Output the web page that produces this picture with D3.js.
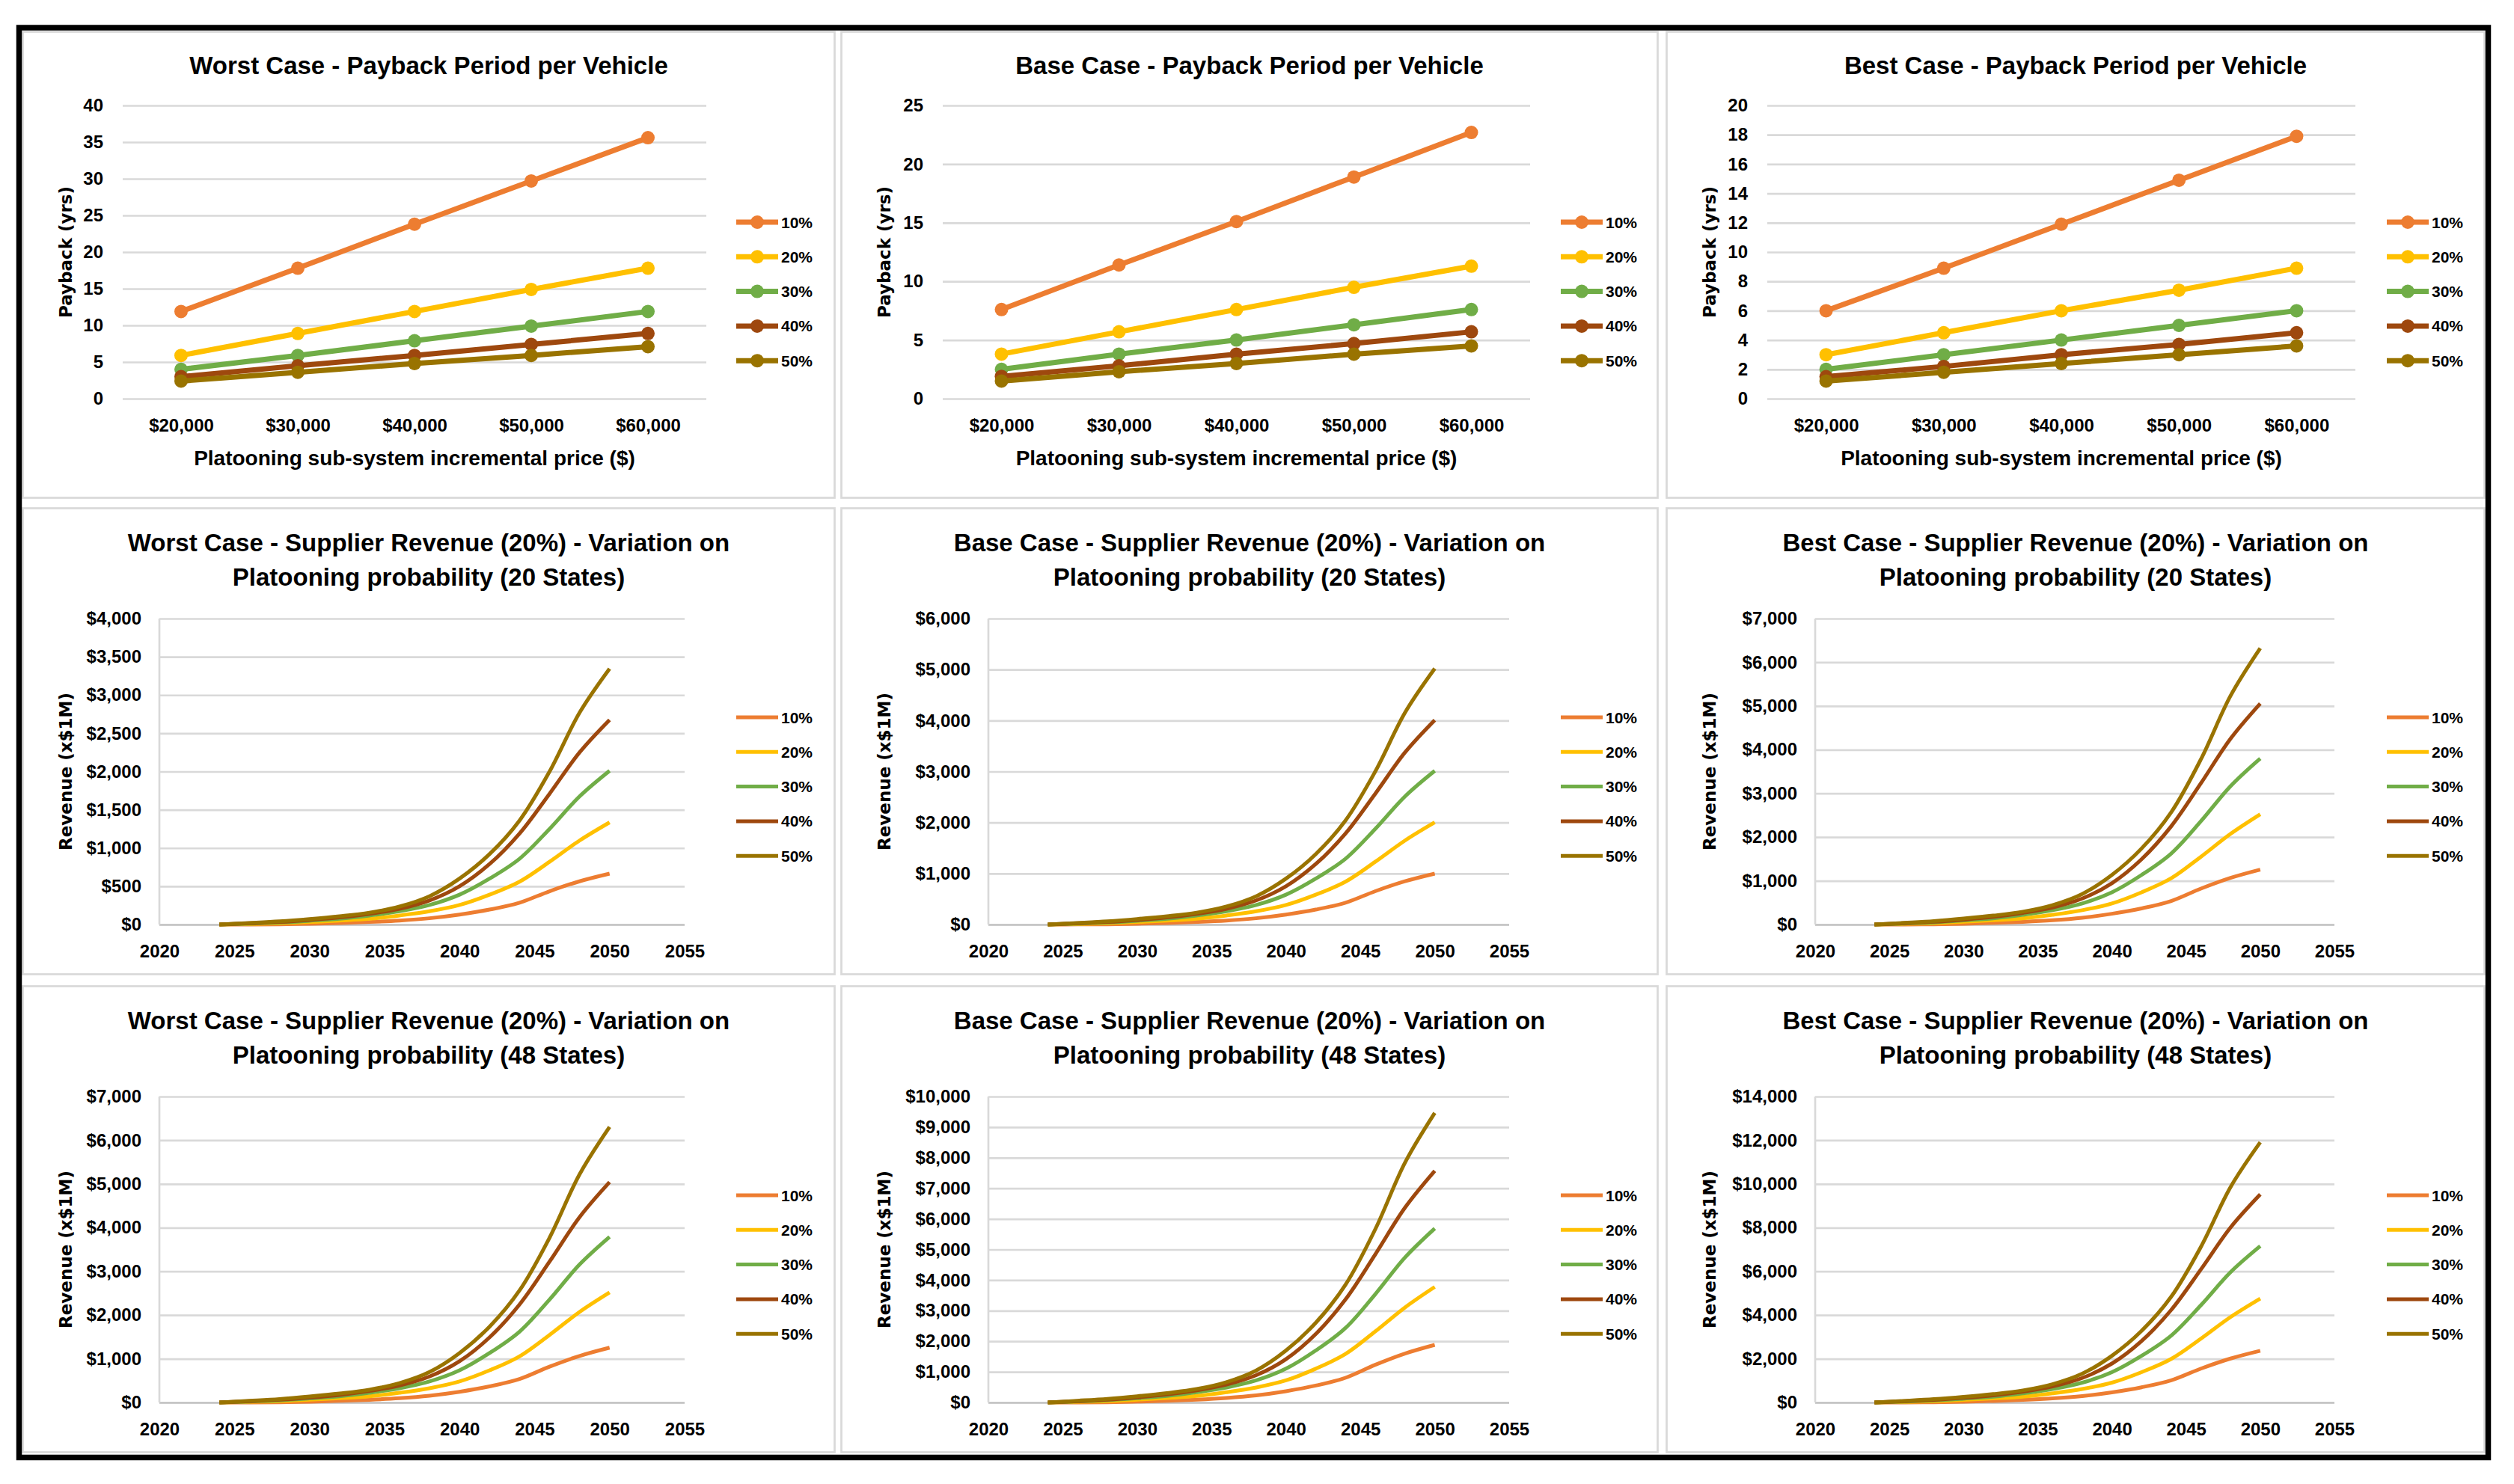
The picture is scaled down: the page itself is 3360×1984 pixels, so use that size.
<!DOCTYPE html>
<html>
<head>
<meta charset="utf-8">
<script src="https://cdn.jsdelivr.net/npm/d3@7"></script>
<style>
    body { margin: 0; background: #fff; }
    text { font-family: "Liberation Sans", Arial, sans-serif; font-weight: bold; fill: #000; }
    .ytitle { font-family: "DejaVu Sans", Verdana, sans-serif; font-size: 23px; }
    .chartTitle { font-size: 33px; }
    .xtitle { font-size: 28px; }
    .tick text { font-size: 24px; }
    .legend text { font-size: 21px; }
</style>
</head>
<body>
<script>
// Categories / labels
var priceLabels = ["$20,000", "$30,000", "$40,000", "$50,000", "$60,000"];
var probLabels = ["10%", "20%", "30%", "40%", "50%"];
var seriesColors = ["#ED7D31", "#FFC000", "#70AD47", "#9E480E", "#997300"];

// Payback (yrs), one row per probability
var paybackWorst = [
    [11.9, 17.8, 23.8, 29.7, 35.6],
    [5.9, 8.9, 11.9, 14.9, 17.8],
    [4.0, 5.9, 7.9, 9.9, 11.9],
    [3.0, 4.5, 5.9, 7.4, 8.9],
    [2.4, 3.6, 4.8, 5.9, 7.1]
];
var paybackBase = [
    [7.6, 11.4, 15.1, 18.9, 22.7],
    [3.8, 5.7, 7.6, 9.5, 11.3],
    [2.5, 3.8, 5.0, 6.3, 7.6],
    [1.9, 2.8, 3.8, 4.7, 5.7],
    [1.5, 2.3, 3.0, 3.8, 4.5]
];
var paybackBest = [
    [6.0, 8.9, 11.9, 14.9, 17.9],
    [3.0, 4.5, 6.0, 7.4, 8.9],
    [2.0, 3.0, 4.0, 5.0, 6.0],
    [1.5, 2.2, 3.0, 3.7, 4.5],
    [1.2, 1.8, 2.4, 3.0, 3.6]
];

// Supplier revenue (x$1M)
var revYears = [2024, 2026, 2028, 2030, 2032, 2034, 2036, 2038, 2040, 2042, 2044, 2046, 2048, 2050];

var revWorst20 = [
    [0, 1, 3, 10, 20, 33, 52, 82, 130, 195, 285, 435, 565, 665],
    [0, 8, 16, 33, 52, 75, 118, 173, 255, 390, 560, 820, 1098, 1335],
    [0, 12, 26, 49, 75, 118, 173, 255, 390, 600, 860, 1250, 1675, 2010],
    [0, 16, 33, 59, 92, 140, 206, 315, 500, 790, 1190, 1710, 2250, 2675],
    [0, 20, 42, 72, 108, 155, 235, 370, 600, 920, 1360, 2000, 2770, 3345]
];
var revBase20 = [
    [0, 2, 5, 15, 30, 50, 78, 123, 195, 293, 428, 653, 848, 998],
    [0, 12, 24, 50, 78, 113, 177, 260, 383, 585, 840, 1230, 1647, 2003],
    [0, 18, 39, 74, 113, 177, 260, 383, 585, 900, 1290, 1875, 2513, 3015],
    [0, 24, 50, 89, 138, 210, 309, 473, 750, 1185, 1785, 2565, 3375, 4010],
    [0, 30, 63, 108, 162, 233, 353, 555, 900, 1380, 2040, 3000, 4155, 5020]
];
var revBest20 = [
    [0, 2, 6, 19, 38, 62, 98, 155, 246, 369, 539, 822, 1068, 1257],
    [0, 15, 30, 62, 98, 142, 223, 327, 482, 737, 1058, 1550, 2075, 2523],
    [0, 23, 49, 93, 142, 223, 327, 482, 737, 1134, 1625, 2363, 3166, 3799],
    [0, 30, 62, 112, 174, 265, 389, 595, 945, 1493, 2249, 3232, 4253, 5056],
    [0, 38, 79, 136, 204, 293, 444, 699, 1134, 1739, 2570, 3780, 5235, 6322]
];
var revWorst48 = [
    [0, 2, 6, 19, 38, 62, 98, 155, 245, 368, 537, 820, 1065, 1254],
    [0, 15, 30, 62, 98, 141, 222, 326, 481, 735, 1056, 1546, 2070, 2516],
    [0, 23, 49, 92, 141, 222, 326, 481, 735, 1131, 1621, 2356, 3157, 3789],
    [0, 30, 62, 111, 173, 264, 388, 594, 943, 1489, 2243, 3223, 4241, 5042],
    [0, 38, 79, 136, 204, 292, 443, 697, 1131, 1734, 2564, 3770, 5221, 6305]
];
var revBase48 = [
    [0, 3, 8, 28, 57, 93, 147, 232, 368, 552, 807, 1231, 1599, 1882],
    [0, 23, 45, 93, 147, 212, 334, 490, 722, 1104, 1585, 2321, 3107, 3778],
    [0, 34, 74, 139, 212, 334, 490, 722, 1104, 1698, 2434, 3538, 4740, 5688],
    [0, 45, 93, 167, 260, 396, 583, 891, 1415, 2236, 3368, 4839, 6368, 7570],
    [0, 57, 119, 204, 306, 439, 665, 1047, 1698, 2604, 3849, 5660, 7839, 9466]
];
var revBest48 = [
    [0, 4, 11, 36, 71, 117, 185, 292, 463, 694, 1015, 1549, 2011, 2367],
    [0, 28, 57, 117, 185, 267, 420, 616, 908, 1388, 1994, 2919, 3909, 4753],
    [0, 43, 93, 174, 267, 420, 616, 908, 1388, 2136, 3062, 4450, 5963, 7156],
    [0, 57, 117, 210, 328, 498, 733, 1121, 1780, 2812, 4236, 6088, 8010, 9523],
    [0, 71, 150, 256, 384, 552, 837, 1317, 2136, 3275, 4842, 7120, 9861, 11908]
];

// Layout
var colX = [29, 1123, 2226];
var colW = [1088, 1094, 1096];
var rowY = [41, 678, 1317];
var rowH = 626;

var payLeft = [135, 137, 136];
var payRight = [915, 922, 922];
var revLeft = [184, 198, 200];
var revRight = [886, 894, 894];
var legendX = [955, 963, 964];

var svg = d3.select("body")
    .append("svg")
    .attr("width", 3360)
    .attr("height", 1984);

svg.append("rect")
    .attr("width", 3360)
    .attr("height", 1984)
    .attr("fill", "#fff");

function panelFrame(col, row) {
    var g = svg.append("g")
        .attr("transform", `translate(${colX[col]}, ${rowY[row]})`);
    g.append("rect")
        .attr("x", 1.5)
        .attr("y", 1.5)
        .attr("width", colW[col] - 3)
        .attr("height", rowH - 3)
        .attr("fill", "#fff")
        .attr("stroke", "#D9D9D9")
        .attr("stroke-width", 2.7);
    return g;
}

function yTitle(g, label, cy) {
    g.append("text")
        .attr("class", "ytitle")
        .attr("transform", `translate(67, ${cy}) rotate(-90)`)
        .attr("text-anchor", "middle")
        .text(label);
}

function styleGrid(axisG, bottomColor) {
    axisG.select(".domain").remove();
    axisG.selectAll(".tick line")
        .attr("stroke", "#D9D9D9")
        .attr("stroke-width", 2.7);
    axisG.selectAll(".tick text").attr("fill", "#000");
    if (bottomColor) {
        axisG.selectAll(".tick line")
            .filter(d => d === 0)
            .attr("stroke", bottomColor);
    }
}

// Payback charts
function drawPayback(col, title, data, yMax, yStep) {
    var g = panelFrame(col, 0);
    var left = payLeft[col], right = payRight[col];
    var top = 100, bottom = 492;

    var x = d3.scalePoint()
        .domain(priceLabels)
        .range([left, right])
        .padding(0.5);
    var y = d3.scaleLinear()
        .domain([0, yMax])
        .range([bottom, top]);

    var yAxis = g.append("g")
        .attr("transform", `translate(${left}, 0)`)
        .call(d3.axisLeft(y)
            .tickValues(d3.range(0, yMax + 0.001, yStep))
            .tickSize(-(right - left))
            .tickPadding(26));
    styleGrid(yAxis, null);

    var xAxis = g.append("g")
        .attr("transform", `translate(0, ${bottom})`)
        .call(d3.axisBottom(x).tickSize(0).tickPadding(27));
    xAxis.select(".domain").remove();

    g.append("text")
        .attr("class", "chartTitle")
        .attr("x", colW[col] / 2)
        .attr("y", 58)
        .attr("text-anchor", "middle")
        .text(title);

    g.append("text")
        .attr("class", "xtitle")
        .attr("x", (left + right) / 2)
        .attr("y", 581)
        .attr("text-anchor", "middle")
        .text("Platooning sub-system incremental price ($)");

    yTitle(g, "Payback (yrs)", (top + bottom) / 2);

    var line = d3.line()
        .x((d, i) => x(priceLabels[i]))
        .y(d => y(d));

    data.forEach(function (series, s) {
        g.append("path")
            .datum(series)
            .attr("fill", "none")
            .attr("stroke", seriesColors[s])
            .attr("stroke-width", 7)
            .attr("stroke-linejoin", "round")
            .attr("d", line);
        g.selectAll(null)
            .data(series)
            .enter()
            .append("circle")
            .attr("cx", (d, i) => x(priceLabels[i]))
            .attr("cy", d => y(d))
            .attr("r", 9)
            .attr("fill", seriesColors[s]);
    });

    // Legend
    var lg = g.append("g").attr("class", "legend");
    probLabels.forEach(function (lab, s) {
        var ly = 256 + s * 46.3;
        var lx = legendX[col];
        lg.append("line")
            .attr("x1", lx).attr("x2", lx + 56)
            .attr("y1", ly).attr("y2", ly)
            .attr("stroke", seriesColors[s])
            .attr("stroke-width", 7);
        lg.append("circle")
            .attr("cx", lx + 28).attr("cy", ly)
            .attr("r", 9)
            .attr("fill", seriesColors[s]);
        lg.append("text")
            .attr("x", lx + 60).attr("y", ly)
            .attr("dy", "0.36em")
            .text(lab);
    });
}

// Revenue charts
function drawRevenue(col, row, title1, title2, data, yMax, yStep) {
    var g = panelFrame(col, row);
    var left = revLeft[col], right = revRight[col];
    var top = 149, bottom = 558;

    var x = d3.scaleLinear()
        .domain([2020, 2055])
        .range([left, right]);
    var y = d3.scaleLinear()
        .domain([0, yMax])
        .range([bottom, top]);

    var yAxis = g.append("g")
        .attr("transform", `translate(${left}, 0)`)
        .call(d3.axisLeft(y)
            .tickValues(d3.range(0, yMax + 0.001, yStep))
            .tickSize(-(right - left))
            .tickPadding(24)
            .tickFormat(d => "$" + d3.format(",")(d)));
    styleGrid(yAxis, "#BFBFBF");

    g.append("line")
        .attr("x1", left).attr("x2", left)
        .attr("y1", top).attr("y2", bottom)
        .attr("stroke", "#D9D9D9")
        .attr("stroke-width", 2.7);

    var xAxis = g.append("g")
        .attr("transform", `translate(0, ${bottom})`)
        .call(d3.axisBottom(x)
            .tickValues(d3.range(2020, 2056, 5))
            .tickFormat(d3.format("d"))
            .tickSize(0)
            .tickPadding(27));
    xAxis.select(".domain").remove();

    g.append("text")
        .attr("class", "chartTitle")
        .attr("x", colW[col] / 2)
        .attr("y", 59)
        .attr("text-anchor", "middle")
        .text(title1);
    g.append("text")
        .attr("class", "chartTitle")
        .attr("x", colW[col] / 2)
        .attr("y", 105)
        .attr("text-anchor", "middle")
        .text(title2);

    yTitle(g, "Revenue (x$1M)", (top + bottom) / 2);

    var line = d3.line()
        .x((d, i) => x(revYears[i]))
        .y(d => y(d))
        .curve(d3.curveCatmullRom.alpha(0.5));

    data.forEach(function (series, s) {
        g.append("path")
            .datum(series)
            .attr("fill", "none")
            .attr("stroke", seriesColors[s])
            .attr("stroke-width", 5)
            .attr("d", line);
    });

    var lg = g.append("g").attr("class", "legend");
    probLabels.forEach(function (lab, s) {
        var ly = 281 + s * 46.3;
        var lx = legendX[col];
        lg.append("line")
            .attr("x1", lx).attr("x2", lx + 56)
            .attr("y1", ly).attr("y2", ly)
            .attr("stroke", seriesColors[s])
            .attr("stroke-width", 5);
        lg.append("text")
            .attr("x", lx + 60).attr("y", ly)
            .attr("dy", "0.36em")
            .text(lab);
    });
}

drawPayback(0, "Worst Case - Payback Period per Vehicle", paybackWorst, 40, 5);
drawPayback(1, "Base Case - Payback Period per Vehicle", paybackBase, 25, 5);
drawPayback(2, "Best Case - Payback Period per Vehicle", paybackBest, 20, 2);

drawRevenue(0, 1, "Worst Case - Supplier Revenue (20%) - Variation on", "Platooning probability (20 States)", revWorst20, 4000, 500);
drawRevenue(1, 1, "Base Case - Supplier Revenue (20%) - Variation on", "Platooning probability (20 States)", revBase20, 6000, 1000);
drawRevenue(2, 1, "Best Case - Supplier Revenue (20%) - Variation on", "Platooning probability (20 States)", revBest20, 7000, 1000);

drawRevenue(0, 2, "Worst Case - Supplier Revenue (20%) - Variation on", "Platooning probability (48 States)", revWorst48, 7000, 1000);
drawRevenue(1, 2, "Base Case - Supplier Revenue (20%) - Variation on", "Platooning probability (48 States)", revBase48, 10000, 1000);
drawRevenue(2, 2, "Best Case - Supplier Revenue (20%) - Variation on", "Platooning probability (48 States)", revBest48, 14000, 2000);

// Outer black frame
svg.append("rect")
    .attr("x", 25.5)
    .attr("y", 37)
    .attr("width", 3300)
    .attr("height", 1911.5)
    .attr("fill", "none")
    .attr("stroke", "#000")
    .attr("stroke-width", 7.5);
</script>
</body>
</html>
